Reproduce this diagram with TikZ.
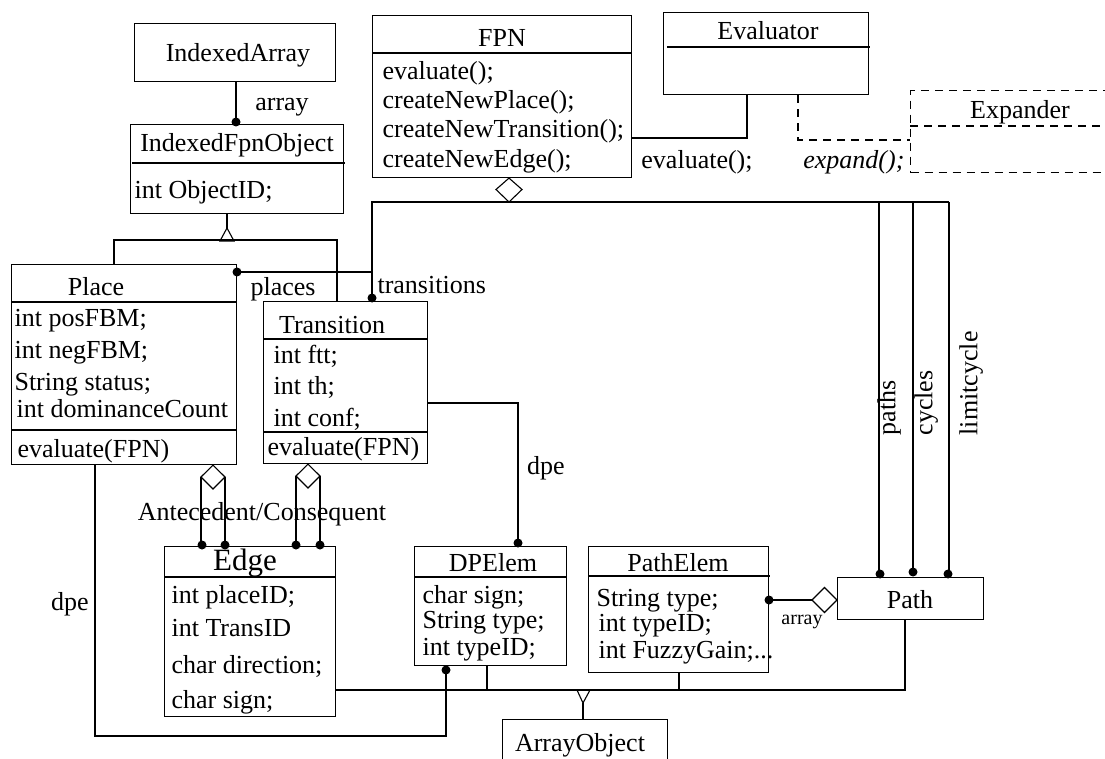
\documentclass[tikz,border=0pt]{standalone}
\usepackage{fontspec}
\setmainfont{Liberation Serif}
\begin{document}
\begin{tikzpicture}[x=1pt,y=-1pt,line width=1.1pt,
  box/.style={draw,inner sep=0pt,anchor=north west},
  dbox/.style={box,dash pattern=on 8pt off 6pt},
  txt/.style={inner sep=0pt,font=\fontsize{26}{30}\selectfont,yshift=-6pt},
  lt/.style={txt,anchor=mid west},
  ct/.style={txt,anchor=mid},
  small/.style={inner sep=0pt,anchor=mid,yshift=-5pt,font=\fontsize{20}{24}\selectfont},
  dia/.style={draw,fill=white},
  rlabel/.style={inner sep=0pt,font=\fontsize{26}{30}\selectfont,rotate=90,anchor=mid west}]
\useasboundingbox (0,0) rectangle (1105,759);
\clip (0,0) rectangle (1105,759);

% ---------- class boxes ----------
\node[box,minimum width=201pt,minimum height=58pt] (idxarr) at (134,23) {};
\node[box,minimum width=213pt,minimum height=89pt] (idxobj) at (130,124) {};
\node[box,minimum width=225pt,minimum height=200pt] (place) at (11,264) {};
\node[box,minimum width=164pt,minimum height=162pt] (trans) at (263,301) {};
\node[box,minimum width=259pt,minimum height=162pt] (fpn) at (372,15) {};
\node[box,minimum width=205pt,minimum height=82pt] (evaluator) at (663,12) {};
\node[dbox,minimum width=220pt,minimum height=82pt] (expander) at (910,90) {};
\node[box,minimum width=171pt,minimum height=170pt] (edge) at (164,546) {};
\node[box,minimum width=152pt,minimum height=119pt] (dpelem) at (414,546) {};
\node[box,minimum width=180pt,minimum height=126pt] (pathelem) at (588,546) {};
\node[box,minimum width=146pt,minimum height=42pt] (path) at (837,577) {};
\node[box,minimum width=165pt,minimum height=60pt] (arrayobj) at (502,719) {};

% ---------- compartment dividers ----------
\draw (132,163) -- (345,163);
\draw (place.west |- 0,302) -- (place.east |- 0,302);
\draw (place.west |- 0,430) -- (place.east |- 0,430);
\draw (trans.west |- 0,339) -- (trans.east |- 0,339);
\draw (trans.west |- 0,432) -- (trans.east |- 0,432);
\draw (fpn.west |- 0,53) -- (fpn.east |- 0,53);
\draw (667,47) -- (870,47);
\draw[dash pattern=on 8pt off 6pt] (expander.west |- 0,126) -- (1105,126);
\draw (edge.west |- 0,577) -- (edge.east |- 0,577);
\draw (dpelem.west |- 0,577) -- (dpelem.east |- 0,577);
\draw (pathelem.west |- 0,576) -- (770,576);

% ---------- class texts ----------
\node[ct] (tIdxArr) at (238,53) {IndexedArray};
\node[ct] (tIdxObj) at (237,143) {IndexedFpnObject};
\node[lt] (tObjID) at (134,190) {int ObjectID;};

\node[ct] (tPlace) at (96,287) {Place};
\node[lt] (tPos) at (14,318) {int posFBM;};
\node[lt] (tNeg) at (14,350) {int negFBM;};
\node[lt] (tStat) at (14,382) {String status;};
\node[lt] (tDom) at (16,409) {int dominanceCount};
\node[lt] (tPlEval) at (17,449) {evaluate(FPN)};

\node[ct] (tTrans) at (332,325) {Transition};
\node[lt] (tFtt) at (273,355) {int ftt;};
\node[lt] (tTh) at (273,386) {int th;};
\node[lt] (tConf) at (273,418) {int conf;};
\node[lt] (tTrEval) at (267,447) {evaluate(FPN)};

\node[ct] (tFpn) at (502,38) {FPN};
\node[lt] (tEv) at (382,71) {evaluate();};
\node[lt] (tNP) at (382,100) {createNewPlace();};
\node[lt] (tNT) at (382,129) {createNewTransition();};
\node[lt] (tNE) at (382,159) {createNewEdge();};

\node[ct] (tEvaluator) at (768,31) {Evaluator};
\node[ct] (tExpander) at (1020,110) {Expander};

\node[txt,anchor=mid,font=\fontsize{31}{34}\selectfont] (tEdge) at (245,562) {Edge};
\node[lt] (tPID) at (171,595) {int placeID;};
\node[lt] (tTID) at (171,628) {int TransID};
\node[lt] (tDir) at (171,665) {char direction;};
\node[lt] (tESign) at (171,700) {char sign;};

\node[ct] (tDPE) at (493,563) {DPElem};
\node[lt] (tDSign) at (422,595) {char sign;};
\node[lt] (tDType) at (422,620) {String type;};
\node[lt] (tDTID) at (422,647) {int typeID;};

\node[ct] (tPE) at (678,563) {PathElem};
\node[lt] (tPType) at (596,598) {String type;};
\node[lt] (tPTID) at (598,623) {int typeID;};
\node[lt] (tPFG) at (598,650) {int FuzzyGain;...};

\node[ct] (tPath) at (910,600) {Path};
\node[ct] (tArrObj) at (580,743) {ArrayObject};

% ---------- IndexedArray -- IndexedFpnObject ----------
\draw (idxarr.south -| 236,0) -- (236,122);
\fill (236,122) circle (4.5pt);
\node[ct] (lArray) at (282,102) {array};

% ---------- generalisation to IndexedFpnObject ----------
\draw (idxobj.south -| 227,0) -- (227,228);
\draw[fill=white] (227,228) -- (234,241) -- (220,241) -- cycle;
\draw (place.north -| 114,0) -- (114,240) -- (337,240) -- (trans.north -| 337,0);

% ---------- FPN aggregation of places / transitions / paths ----------
\draw (237,272) -- (372,272);
\fill (237,272) circle (4.5pt);
\draw (372,298) -- (372,202) -- (949,202);
\fill (372,298) circle (4.5pt);
\draw[dia] (fpn.south -| 509,0) -- (522,189.5) -- (509,202) -- (496,189.5) -- cycle;
\node[ct] (lPlaces) at (283,287) {places};
\node[lt] (lTrans) at (377,285) {transitions};

\draw (879,202) -- (879,574);
\draw (913,202) -- (913,572);
\draw (949,202) -- (949,574);
\fill (880,574) circle (4.5pt);
\fill (913,572) circle (4.5pt);
\fill (948,574) circle (4.5pt);
\node[rlabel] (lPaths) at (893,436) {paths};
\node[rlabel] (lCycles) at (930,436) {cycles};
\node[rlabel] (lLimit) at (975,436) {limitcycle};

% ---------- FPN -- Evaluator -- Expander ----------
\draw (fpn.east |- 0,138) -- (747,138) -- (evaluator.south -| 747,0);
\node[ct] (lEval) at (697,160) {evaluate();};
\draw[dash pattern=on 8pt off 6pt] (evaluator.south -| 798,0) -- (798,140) -- (expander.west |- 0,140);
\node[txt,anchor=mid east] (lExpand) at (905,160) {\itshape expand();};

% ---------- Place / Transition -- Edge ----------
\draw (201,477) -- (201,545);
\draw (225,477) -- (225,545);
\draw[dia] (place.south -| 213,0) -- (225,477) -- (213,489) -- (201,477) -- cycle;
\draw (296,476) -- (296,545);
\draw (320,476) -- (320,545);
\draw[dia] (trans.south -| 308,0) -- (320,476) -- (308,488) -- (296,476) -- cycle;
\fill (202,545) circle (4.5pt);
\fill (225,545) circle (4.5pt);
\fill (296,545) circle (4.5pt);
\fill (320,545) circle (4.5pt);
\node[ct] (lAC) at (262,512) {Antecedent/Consequent};

% ---------- dpe links to DPElem ----------
\draw (trans.east |- 0,403) -- (518,403) -- (518,543);
\fill (518,543) circle (4.5pt);
\node[ct] (lDpe1) at (546,466) {dpe};
\draw (place.south -| 95,0) -- (95,736) -- (446,736) -- (446,670);
\fill (446,670) circle (4.5pt);
\node[ct] (lDpe2) at (70,602) {dpe};

% ---------- PathElem -- Path ----------
\draw (769,600) -- (812,600);
\fill (769,600) circle (4.5pt);
\draw[dia] (812,600) -- (824.5,587.5) -- (path.west |- 0,600) -- (824.5,612.5) -- cycle;
\node[small] (lArray2) at (802,617) {array};

% ---------- generalisation to ArrayObject ----------
\draw (edge.east |- 0,690) -- (905,690) -- (path.south -| 905,0);
\draw (dpelem.south -| 487,0) -- (487,690);
\draw (pathelem.south -| 679,0) -- (679,690);
\draw (577,690) -- (583,703) -- (590,690);
\draw (583,703) -- (arrayobj.north -| 583,0);
\end{tikzpicture}
\end{document}
